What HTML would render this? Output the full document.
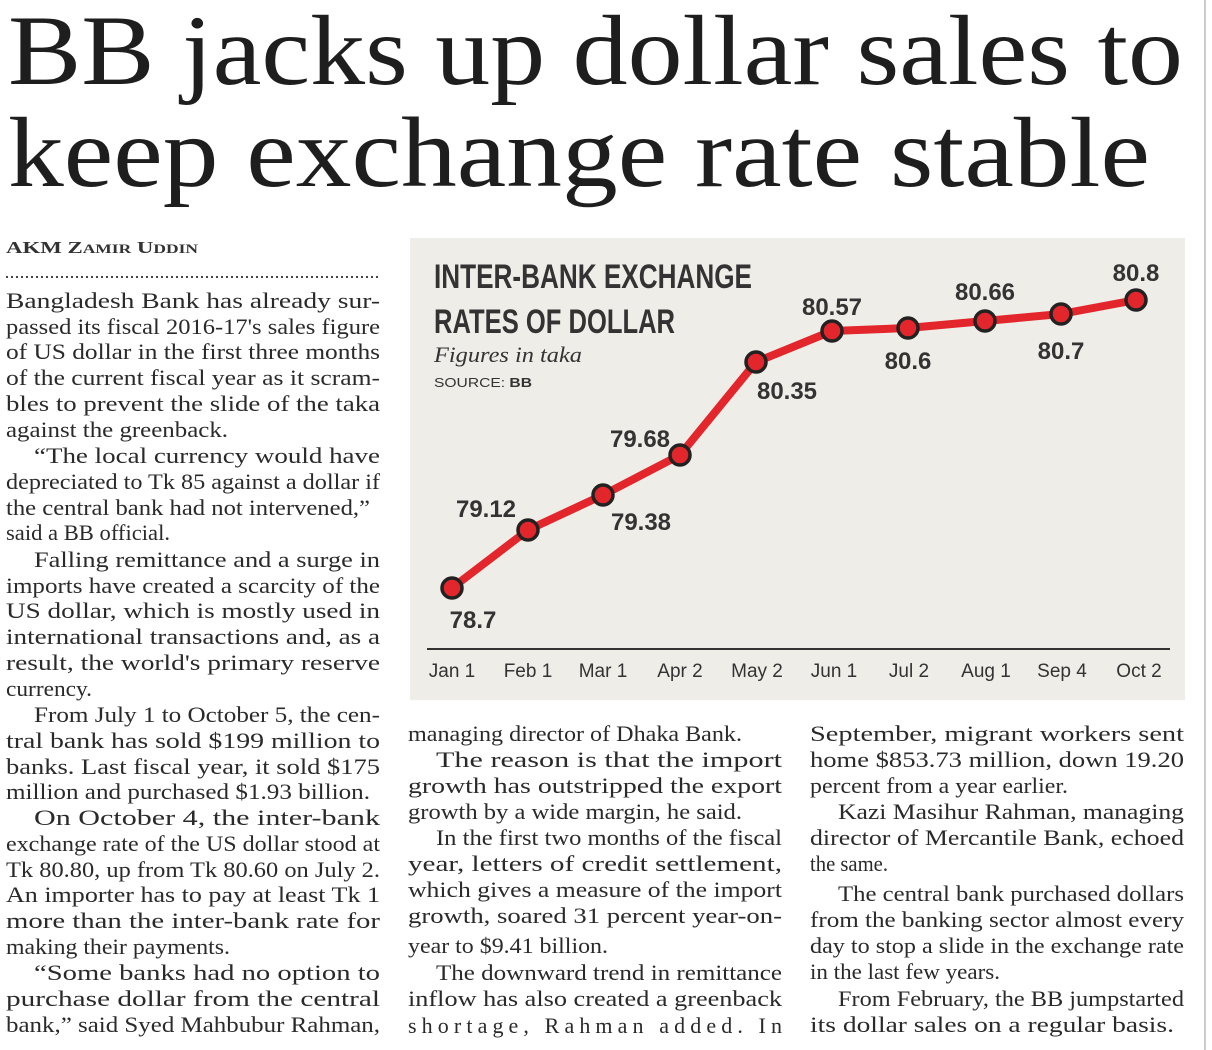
<!DOCTYPE html>
<html><head><meta charset="utf-8"><style>
html,body{margin:0;padding:0;background:#fff;}
svg{display:block}
.b{font-family:"Liberation Serif",serif;font-size:22px;fill:#2a2a2a}
.c{font-family:"Liberation Sans Narrow","Liberation Sans",sans-serif;font-weight:bold;fill:#333}
.m{font-family:"Liberation Sans Narrow","Liberation Sans",sans-serif;font-size:19px;fill:#333}
</style></head><body>
<svg width="1212" height="1050" viewBox="0 0 1212 1050" xmlns="http://www.w3.org/2000/svg">
<rect width="1212" height="1050" fill="#fff"/>
<line x1="1205" y1="0" x2="1205" y2="1050" stroke="#999" stroke-width="1"/>
<g font-family="Liberation Serif,serif" font-size="100" fill="#1e1e1e">
<text x="8" y="84" textLength="1175" lengthAdjust="spacingAndGlyphs">BB jacks up dollar sales to</text>
<text x="8" y="186" textLength="1142" lengthAdjust="spacingAndGlyphs">keep exchange rate stable</text>
</g>
<text x="6" y="253" font-family="Liberation Serif,serif" font-size="17" font-weight="bold" fill="#333" textLength="192" lengthAdjust="spacingAndGlyphs">AKM Z<tspan font-size="13">AMIR</tspan> U<tspan font-size="13">DDIN</tspan></text>
<line x1="6" y1="277" x2="380" y2="277" stroke="#444" stroke-width="2" stroke-dasharray="2,3"/>

<rect x="410" y="238" width="775" height="462" fill="#efede8"/>
<text class="c" x="434" y="288" font-size="34" textLength="318" lengthAdjust="spacingAndGlyphs">INTER-BANK EXCHANGE</text>
<text class="c" x="434" y="333" font-size="34" textLength="241" lengthAdjust="spacingAndGlyphs">RATES OF DOLLAR</text>
<text x="434" y="362" font-family="Liberation Serif,serif" font-style="italic" font-size="22" fill="#333" textLength="148" lengthAdjust="spacingAndGlyphs">Figures in taka</text>
<text x="434" y="387" font-family="Liberation Sans,sans-serif" font-size="13" fill="#333" textLength="98" lengthAdjust="spacingAndGlyphs">SOURCE: <tspan font-weight="bold">BB</tspan></text>
<line x1="427" y1="649" x2="1170" y2="649" stroke="#333" stroke-width="2"/>
<polyline points="452,588 528,530 603,495 680,455 756,362 832,331 908,328 985,321 1061,314 1136,300" fill="none" stroke="#e3262b" stroke-width="8" stroke-linejoin="round"/>
<g fill="#e3262b" stroke="#222" stroke-width="3.5">
<circle cx="452" cy="588" r="10"/><circle cx="528" cy="530" r="10"/><circle cx="603" cy="495" r="10"/><circle cx="680" cy="455" r="10"/><circle cx="756" cy="362" r="10"/><circle cx="832" cy="331" r="10"/><circle cx="908" cy="328" r="10"/><circle cx="985" cy="321" r="10"/><circle cx="1061" cy="314" r="10"/><circle cx="1136" cy="300" r="10"/>
</g>
<g class="c" font-size="24" text-anchor="middle">
<text x="1136" y="281">80.8</text>
<text x="985" y="300">80.66</text>
<text x="832" y="315">80.57</text>
<text x="908" y="369">80.6</text>
<text x="1061" y="359">80.7</text>
<text x="787" y="399">80.35</text>
<text x="640" y="447">79.68</text>
<text x="486" y="517">79.12</text>
<text x="641" y="530">79.38</text>
<text x="473" y="628">78.7</text>
</g>
<g class="m" text-anchor="middle">
<text x="452" y="677">Jan 1</text><text x="528" y="677">Feb 1</text><text x="603" y="677">Mar 1</text><text x="680" y="677">Apr 2</text><text x="757" y="677">May 2</text><text x="834" y="677">Jun 1</text><text x="909" y="677">Jul 2</text><text x="986" y="677">Aug 1</text><text x="1062" y="677">Sep 4</text><text x="1139" y="677">Oct 2</text>
</g>

<g class="b">
<text lengthAdjust="spacingAndGlyphs" x="6" y="308" textLength="374">Bangladesh Bank has already sur-</text>
<text lengthAdjust="spacingAndGlyphs" x="6" y="334" textLength="374">passed its fiscal 2016-17's sales figure</text>
<text lengthAdjust="spacingAndGlyphs" x="6" y="359" textLength="374">of US dollar in the first three months</text>
<text lengthAdjust="spacingAndGlyphs" x="6" y="385" textLength="374">of the current fiscal year as it scram-</text>
<text lengthAdjust="spacingAndGlyphs" x="6" y="411" textLength="374">bles to prevent the slide of the taka</text>
<text lengthAdjust="spacingAndGlyphs" x="6" y="437" textLength="222">against the greenback.</text>
<text lengthAdjust="spacingAndGlyphs" x="34" y="463" textLength="346">“The local currency would have</text>
<text lengthAdjust="spacingAndGlyphs" x="6" y="489" textLength="374">depreciated to Tk 85 against a dollar if</text>
<text lengthAdjust="spacingAndGlyphs" x="6" y="515" textLength="364">the central bank had not intervened,”</text>
<text lengthAdjust="spacingAndGlyphs" x="6" y="540" textLength="164">said a BB official.</text>
<text lengthAdjust="spacingAndGlyphs" x="34" y="567" textLength="346">Falling remittance and a surge in</text>
<text lengthAdjust="spacingAndGlyphs" x="6" y="593" textLength="374">imports have created a scarcity of the</text>
<text lengthAdjust="spacingAndGlyphs" x="6" y="618" textLength="374">US dollar, which is mostly used in</text>
<text lengthAdjust="spacingAndGlyphs" x="6" y="644" textLength="374">international transactions and, as a</text>
<text lengthAdjust="spacingAndGlyphs" x="6" y="670" textLength="374">result, the world's primary reserve</text>
<text lengthAdjust="spacingAndGlyphs" x="6" y="696" textLength="86">currency.</text>
<text lengthAdjust="spacingAndGlyphs" x="34" y="722" textLength="346">From July 1 to October 5, the cen-</text>
<text lengthAdjust="spacingAndGlyphs" x="6" y="748" textLength="374">tral bank has sold $199 million to</text>
<text lengthAdjust="spacingAndGlyphs" x="6" y="774" textLength="374">banks. Last fiscal year, it sold $175</text>
<text lengthAdjust="spacingAndGlyphs" x="6" y="799" textLength="364">million and purchased $1.93 billion.</text>
<text lengthAdjust="spacingAndGlyphs" x="34" y="825" textLength="346">On October 4, the inter-bank</text>
<text lengthAdjust="spacingAndGlyphs" x="6" y="851" textLength="374">exchange rate of the US dollar stood at</text>
<text lengthAdjust="spacingAndGlyphs" x="6" y="877" textLength="374">Tk 80.80, up from Tk 80.60 on July 2.</text>
<text lengthAdjust="spacingAndGlyphs" x="6" y="902" textLength="374">An importer has to pay at least Tk 1</text>
<text lengthAdjust="spacingAndGlyphs" x="6" y="928" textLength="374">more than the inter-bank rate for</text>
<text lengthAdjust="spacingAndGlyphs" x="6" y="954" textLength="224">making their payments.</text>
<text lengthAdjust="spacingAndGlyphs" x="34" y="980" textLength="346">“Some banks had no option to</text>
<text lengthAdjust="spacingAndGlyphs" x="6" y="1006" textLength="374">purchase dollar from the central</text>
<text lengthAdjust="spacingAndGlyphs" x="6" y="1032" textLength="374">bank,” said Syed Mahbubur Rahman,</text>
</g>
<g class="b">
<text lengthAdjust="spacingAndGlyphs" x="408" y="741" textLength="334">managing director of Dhaka Bank.</text>
<text lengthAdjust="spacingAndGlyphs" x="436" y="767" textLength="346">The reason is that the import</text>
<text lengthAdjust="spacingAndGlyphs" x="408" y="793" textLength="374">growth has outstripped the export</text>
<text lengthAdjust="spacingAndGlyphs" x="408" y="819" textLength="334">growth by a wide margin, he said.</text>
<text lengthAdjust="spacingAndGlyphs" x="436" y="845" textLength="346">In the first two months of the fiscal</text>
<text lengthAdjust="spacingAndGlyphs" x="408" y="871" textLength="374">year, letters of credit settlement,</text>
<text lengthAdjust="spacingAndGlyphs" x="408" y="897" textLength="374">which gives a measure of the import</text>
<text lengthAdjust="spacingAndGlyphs" x="408" y="923" textLength="374">growth, soared 31 percent year-on-</text>
<text lengthAdjust="spacingAndGlyphs" x="408" y="953" textLength="200">year to $9.41 billion.</text>
<text lengthAdjust="spacingAndGlyphs" x="436" y="980" textLength="346">The downward trend in remittance</text>
<text lengthAdjust="spacingAndGlyphs" x="408" y="1006" textLength="374">inflow has also created a greenback</text>
<text lengthAdjust="spacing" x="408" y="1033" textLength="374">shortage, Rahman added. In</text>
</g>
<g class="b">
<text lengthAdjust="spacingAndGlyphs" x="810" y="741" textLength="374">September, migrant workers sent</text>
<text lengthAdjust="spacingAndGlyphs" x="810" y="767" textLength="374">home $853.73 million, down 19.20</text>
<text lengthAdjust="spacingAndGlyphs" x="810" y="793" textLength="258">percent from a year earlier.</text>
<text lengthAdjust="spacingAndGlyphs" x="838" y="819" textLength="346">Kazi Masihur Rahman, managing</text>
<text lengthAdjust="spacingAndGlyphs" x="810" y="845" textLength="374">director of Mercantile Bank, echoed</text>
<text lengthAdjust="spacingAndGlyphs" x="810" y="871" textLength="78">the same.</text>
<text lengthAdjust="spacingAndGlyphs" x="838" y="901" textLength="346">The central bank purchased dollars</text>
<text lengthAdjust="spacingAndGlyphs" x="810" y="927" textLength="374">from the banking sector almost every</text>
<text lengthAdjust="spacingAndGlyphs" x="810" y="953" textLength="374">day to stop a slide in the exchange rate</text>
<text lengthAdjust="spacingAndGlyphs" x="810" y="979" textLength="190">in the last few years.</text>
<text lengthAdjust="spacingAndGlyphs" x="838" y="1006" textLength="346">From February, the BB jumpstarted</text>
<text lengthAdjust="spacingAndGlyphs" x="810" y="1032" textLength="364">its dollar sales on a regular basis.</text>
</g>
</svg>
</body></html>
